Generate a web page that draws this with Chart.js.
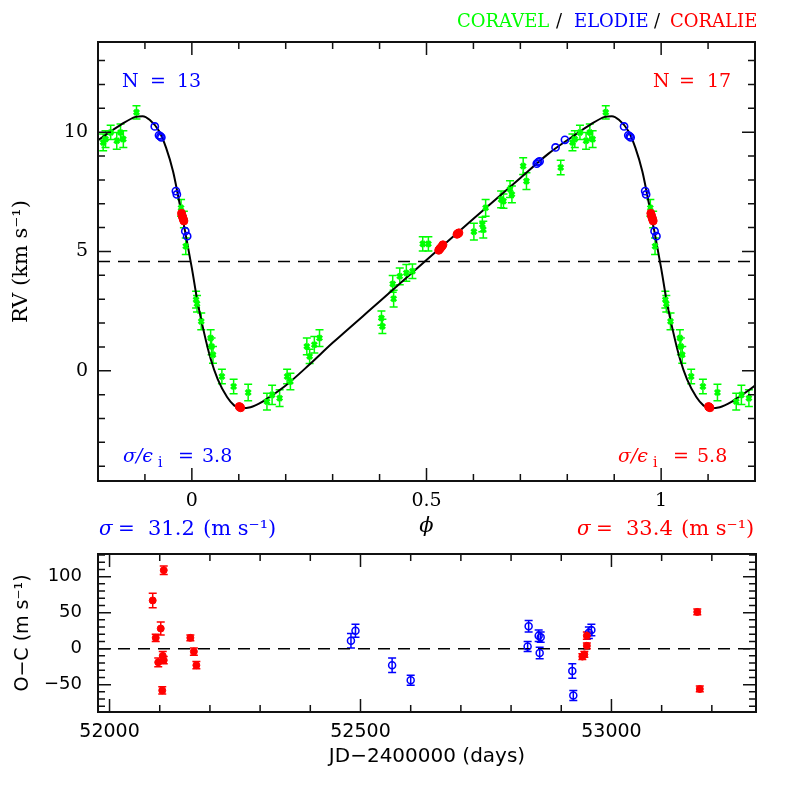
<!DOCTYPE html>
<html>
<head>
<meta charset="utf-8">
<script src="https://cdn.jsdelivr.net/npm/chart.js@4/dist/chart.umd.min.js"></script>
<style>
  body { margin: 0; background: #fff; }
  #wrap { position: relative; width: 797px; height: 797px; }
  #rvChart { position: absolute; left: 0; top: 0; }
  #ocChart { position: absolute; left: 0; top: 548px; }
</style>
</head>
<body>
<div id="wrap">
  <canvas id="rvChart" width="797" height="548"></canvas>
  <canvas id="ocChart" width="797" height="249"></canvas>
</div>
<script>
// phase-folded radial velocities, one cycle (phase 0..1), km/s
const coravelPhase = [0.009, 0.011, 0.020, 0.040, 0.042, 0.045, 0.064, 0.089, 0.120, 0.160,
  0.171, 0.187, 0.203, 0.210, 0.245, 0.251, 0.261, 0.272, 0.404, 0.406, 0.428, 0.430, 0.443,
  0.457, 0.470, 0.492, 0.504, 0.601, 0.619, 0.621, 0.626, 0.659, 0.664, 0.678, 0.682, 0.706,
  0.713, 0.786, 0.811, 0.816, 0.827, 0.840, 0.848, 0.854, 0.882, 0.977, 0.983, 0.987];
const coravelRV = [2.98, 2.81, 2.07, 1.37, 1.02, 0.67, -0.24, -0.66, -0.91, -1.29,
  -1.01, -1.15, -0.24, -0.45, 1.02, 0.60, 1.09, 1.37, 2.21, 1.86, 3.64, 3.02, 3.96,
  4.10, 4.17, 5.32, 5.32, 5.83, 6.13, 5.92, 6.83, 7.18, 7.11, 7.61, 7.39, 8.58,
  7.95, 8.52, 9.57, 9.71, 9.99, 9.64, 9.99, 9.71, 10.83, 6.83, 6.34, 5.22];
const coravelErr = [0.35, 0.35, 0.35, 0.35, 0.35, 0.35, 0.3, 0.3, 0.35, 0.35,
  0.4, 0.35, 0.3, 0.35, 0.35, 0.3, 0.35, 0.35, 0.3, 0.3, 0.35, 0.35, 0.35,
  0.35, 0.3, 0.3, 0.3, 0.35, 0.3, 0.35, 0.35, 0.35, 0.3, 0.35, 0.35, 0.35,
  0.35, 0.3, 0.35, 0.35, 0.3, 0.35, 0.35, 0.35, 0.28, 0.35, 0.35, 0.35];

const elodiePhase = [0.735, 0.738, 0.741, 0.775, 0.795, 0.921, 0.930, 0.933, 0.935, 0.966, 0.968, 0.986, 0.990];
const elodieRV = [8.68, 8.74, 8.78, 9.36, 9.68, 10.24, 9.87, 9.82, 9.78, 7.53, 7.39, 5.85, 5.64];

const coraliePhase = [0.978, 0.979, 0.980, 0.981, 0.982, 0.983, 0.101, 0.102, 0.104,
  0.526, 0.528, 0.530, 0.533, 0.535, 0.565, 0.567, 0.569];
const coralieRV = [6.60, 6.52, 6.46, 6.40, 6.34, 6.28, -1.50, -1.52, -1.55,
  5.05, 5.10, 5.15, 5.22, 5.28, 5.72, 5.75, 5.78];

// fitted orbit
const orbitPhase = [0.000, 0.012, 0.026, 0.040, 0.055, 0.075, 0.090, 0.104, 0.125, 0.150,
  0.175, 0.200, 0.250, 0.300, 0.400, 0.500, 0.600, 0.700, 0.760, 0.810, 0.850, 0.880,
  0.895, 0.910, 0.930, 0.945, 0.960, 0.972, 0.986];
const orbitRV = [4.30, 2.90, 1.60, 0.50, -0.35, -1.10, -1.45, -1.57, -1.53, -1.30,
  -0.98, -0.62, 0.25, 1.17, 2.90, 4.64, 6.37, 8.08, 9.10, 9.80, 10.33, 10.64,
  10.67, 10.52, 10.05, 9.35, 8.35, 7.20, 5.80];
const systemicRV = 4.58;

// residuals against time, m/s
const elodieJD = [52481, 52490, 52563, 52600, 52833, 52835, 52855, 52857, 52859, 52922, 52924, 52955, 52960];
const elodieOC = [11, 25, -23, -44, 3, 31, 18, -6, 16, -31, -65, 22, 26];
const elodieOCErr = [10, 9, 10, 7, 7, 8, 8, 8, 7, 10, 7, 8, 8];

const coralieJD = [52086, 52092, 52097, 52102, 52105, 52106, 52108, 52108, 52161, 52168, 52173,
  52942, 52946, 52951, 52951, 53171, 53176];
const coralieOC = [67, 15, -19, 28, -58, -10, 109, -16, 15, -4, -23, -11, -8, 4, 18, 51, -56];
const coralieOCErr = [10, 5, 6, 9, 5, 6, 6, 5, 4, 5, 5, 4, 4, 4, 5, 4, 4];

// labelled ticks
const phaseLabels = [0, 0.5, 1];
const rvLabels = [0, 5, 10];
const jdLabels = [52000, 52500, 53000];
const ocLabels = [-50, 0, 50, 100];

const GREEN = '#00ff00', BLUE = '#0000ff', RED = '#ff0000';
const PHASE_MIN = -0.2, PHASE_MAX = 1.2;
const JD_MIN = 51977, JD_MAX = 53288;

// repeat one cycle at phase-1 and phase+1
function fold(phase, vals, errs, lo, hi) {
  const pts = [];
  [-1, 0, 1].forEach(shift => phase.forEach((p, i) => {
    const x = p + shift;
    if (x >= lo && x <= hi) pts.push({ x: x, y: vals[i], e: errs ? errs[i] : 0 });
  }));
  return pts.sort((a, b) => a.x - b.x);
}

const errorBars = {
  id: 'errorBars',
  beforeDatasetsDraw(chart) {
    const { ctx, chartArea: a } = chart;
    const ys = chart.scales.y;
    ctx.save();
    ctx.beginPath();
    ctx.rect(a.left, a.top, a.width, a.height);
    ctx.clip();
    chart.data.datasets.forEach((ds, i) => {
      if (!ds.errColor) return;
      const meta = chart.getDatasetMeta(i);
      ctx.strokeStyle = ds.errColor;
      ctx.lineWidth = 1.5;
      meta.data.forEach((el, j) => {
        const d = ds.data[j];
        if (!d.e) return;
        const top = ys.getPixelForValue(d.y + d.e);
        const bot = ys.getPixelForValue(d.y - d.e);
        const x = el.x, w = ds.capWidth || 4;
        ctx.beginPath();
        ctx.moveTo(x, top); ctx.lineTo(x, bot);
        ctx.moveTo(x - w, top); ctx.lineTo(x + w, top);
        ctx.moveTo(x - w, bot); ctx.lineTo(x + w, bot);
        ctx.stroke();
      });
    });
    ctx.restore();
  }
};

// box with inward ticks on all four sides
const frameTicks = {
  id: 'frameTicks',
  afterDraw(chart) {
    const { ctx, chartArea: a, scales } = chart;
    ctx.save();
    ctx.strokeStyle = '#111';
    ctx.lineWidth = 1.5;
    ctx.beginPath();
    scales.x.ticks.forEach(t => {
      const px = scales.x.getPixelForValue(t.value);
      const len = t.label !== '' ? 13 : 7;
      ctx.moveTo(px, a.bottom); ctx.lineTo(px, a.bottom - len);
      ctx.moveTo(px, a.top); ctx.lineTo(px, a.top + len);
    });
    scales.y.ticks.forEach(t => {
      const py = scales.y.getPixelForValue(t.value);
      const len = t.label !== '' ? 13 : 7;
      ctx.moveTo(a.left, py); ctx.lineTo(a.left + len, py);
      ctx.moveTo(a.right, py); ctx.lineTo(a.right - len, py);
    });
    ctx.stroke();
    ctx.lineWidth = 2;
    ctx.strokeRect(a.left, a.top, a.width, a.height);
    ctx.restore();
  }
};

// fixed axis boxes; drop the label overhang padding so the plot box stays put
const fixWidth = w => s => { s.width = w; s.paddingTop = 0; s.paddingBottom = 0; };
const fixHeight = h => s => { s.height = h; s.paddingLeft = 0; s.paddingRight = 0; };

const serif = px => px + 'px "DejaVu Serif"';

const rvNotes = {
  id: 'rvNotes',
  afterDraw(chart) {
    const ctx = chart.ctx;
    ctx.save();
    ctx.textAlign = 'left';
    ctx.textBaseline = 'alphabetic';
    const put = (s, x, y, color, font) => { ctx.font = font; ctx.fillStyle = color; ctx.fillText(s, x, y); };
    // instrument key
    put('CORAVEL', 457, 27, GREEN, serif(18));
    put('/', 556, 27, '#000', serif(18));
    put('ELODIE', 574, 27, BLUE, serif(18));
    put('/', 654, 27, '#000', serif(18));
    put('CORALIE', 670, 27, RED, serif(18));
    // counts
    put('N', 122, 87, BLUE, serif(19));
    put('=', 150, 87, BLUE, serif(19));
    put('13', 177, 87, BLUE, serif(19));
    put('N', 653, 87, RED, serif(19));
    put('=', 679, 87, RED, serif(19));
    put('17', 707, 87, RED, serif(19));
    // dispersion ratios
    const ratio = (x, val, color) => {
      put('σ/ϵ', x, 462, color, 'italic ' + serif(19));
      put('i', x + 35, 467, color, serif(14));
      put('=', x + 55, 462, color, serif(19));
      put(val, x + 79, 462, color, serif(19));
    };
    ratio(123, '3.8', BLUE);
    ratio(618, '5.8', RED);
    // residual rms
    const rms = (x, val, color) => {
      put('σ', x, 535, color, 'italic ' + serif(20));
      put('=', x + 19, 535, color, serif(20));
      put(val, x + 49, 535, color, serif(21));
      put('(m s⁻¹)', x + 104, 535, color, serif(21));
    };
    rms(99, '31.2', BLUE);
    rms(577, '33.4', RED);
    ctx.restore();
  }
};

const orbitPts = fold(orbitPhase, orbitRV, null, -0.3, 1.3);

new Chart(document.getElementById('rvChart'), {
  type: 'scatter',
  data: {
    datasets: [
      { data: fold(coraliePhase, coralieRV, null, PHASE_MIN, PHASE_MAX), pointStyle: 'circle',
        pointRadius: 4, backgroundColor: RED, borderColor: RED, borderWidth: 1 },
      { data: fold(elodiePhase, elodieRV, null, PHASE_MIN, PHASE_MAX), pointStyle: 'circle',
        pointRadius: 3.6, backgroundColor: 'rgba(0,0,0,0)', borderColor: BLUE, borderWidth: 1.6 },
      { data: fold(coravelPhase, coravelRV, coravelErr, PHASE_MIN, PHASE_MAX), pointStyle: 'crossRot',
        pointRadius: 3.5, borderColor: GREEN, backgroundColor: GREEN, borderWidth: 3,
        errColor: GREEN, capWidth: 4 },
      { data: orbitPts, showLine: true, pointRadius: 0, borderColor: '#000', borderWidth: 2,
        cubicInterpolationMode: 'monotone' },
      { data: [{ x: PHASE_MIN, y: systemicRV }, { x: PHASE_MAX, y: systemicRV }], showLine: true,
        pointRadius: 0, borderColor: '#000', borderWidth: 1.5, borderDash: [12, 8] }
    ]
  },
  options: {
    responsive: false,
    animation: false,
    devicePixelRatio: 1,
    layout: { padding: { top: 42, right: 42, left: 0, bottom: 0 } },
    plugins: { legend: { display: false }, tooltip: { enabled: false } },
    scales: {
      x: {
        type: 'linear', min: PHASE_MIN, max: PHASE_MAX,
        afterFit: fixHeight(67),
        grid: { display: false, drawTicks: false }, border: { display: false },
        ticks: {
          stepSize: 0.1, includeBounds: false, autoSkip: false, maxRotation: 0, padding: 9,
          color: '#000', font: { family: 'DejaVu Serif', size: 19 },
          callback: v => { const r = Math.round(v * 10) / 10; return phaseLabels.includes(r) ? String(r) : ''; }
        },
        title: { display: true, text: 'ϕ', color: '#000',
          font: { family: 'DejaVu Serif', size: 21, style: 'italic' }, padding: { top: 0, bottom: 9 } }
      },
      y: {
        type: 'linear', min: systemicRV - 9.2, max: systemicRV + 9.2,
        afterFit: fixWidth(98),
        grid: { display: false, drawTicks: false }, border: { display: false },
        ticks: {
          stepSize: 1, includeBounds: false, autoSkip: false, padding: 10,
          color: '#000', font: { family: 'DejaVu Serif', size: 19 },
          callback: v => rvLabels.includes(v) ? String(v) : ''
        },
        title: { display: true, text: 'RV (km s⁻¹)', color: '#000', font: { family: 'DejaVu Serif', size: 21 },
          padding: { top: 9, bottom: 0 } }
      }
    }
  },
  plugins: [errorBars, frameTicks, rvNotes]
});

const ocPts = (jd, oc, err) => jd.map((d, i) => ({ x: d, y: oc[i], e: err[i] }));

new Chart(document.getElementById('ocChart'), {
  type: 'scatter',
  data: {
    datasets: [
      { data: ocPts(coralieJD, coralieOC, coralieOCErr), pointStyle: 'circle', pointRadius: 3.5,
        backgroundColor: RED, borderColor: RED, borderWidth: 1, errColor: RED, capWidth: 4 },
      { data: ocPts(elodieJD, elodieOC, elodieOCErr), pointStyle: 'circle', pointRadius: 3.5,
        backgroundColor: 'rgba(0,0,0,0)', borderColor: BLUE, borderWidth: 1.5, errColor: BLUE, capWidth: 4 },
      { data: [{ x: JD_MIN, y: 0 }, { x: JD_MAX, y: 0 }], showLine: true, pointRadius: 0,
        borderColor: '#000', borderWidth: 1.5, borderDash: [12, 8] }
    ]
  },
  options: {
    responsive: false,
    animation: false,
    devicePixelRatio: 1,
    layout: { padding: { top: 6, right: 41, left: 0, bottom: 0 } },
    plugins: { legend: { display: false }, tooltip: { enabled: false } },
    scales: {
      x: {
        type: 'linear', min: JD_MIN, max: JD_MAX,
        afterFit: fixHeight(85),
        grid: { display: false, drawTicks: false }, border: { display: false },
        ticks: {
          stepSize: 100, includeBounds: false, autoSkip: false, maxRotation: 0, padding: 9,
          color: '#000', font: { family: 'DejaVu Sans', size: 19 },
          callback: v => jdLabels.includes(v) ? String(v) : ''
        },
        title: { display: true, text: 'JD−2400000 (days)', color: '#000',
          font: { family: 'DejaVu Sans', size: 20 }, padding: { top: 0, bottom: 28 } }
      },
      y: {
        type: 'linear', min: -88, max: 131.5,
        afterFit: fixWidth(98),
        grid: { display: false, drawTicks: false }, border: { display: false },
        ticks: {
          stepSize: 10, includeBounds: false, autoSkip: false, padding: 16,
          color: '#000', font: { family: 'DejaVu Sans', size: 18 },
          callback: v => ocLabels.includes(v) ? String(v).replace('-', '−') : ''
        },
        title: { display: true, text: 'O−C (m s⁻¹)', color: '#000',
          font: { family: 'DejaVu Sans', size: 19 }, padding: { top: 12, bottom: 0 } }
      }
    }
  },
  plugins: [errorBars, frameTicks]
});
</script>
</body>
</html>
